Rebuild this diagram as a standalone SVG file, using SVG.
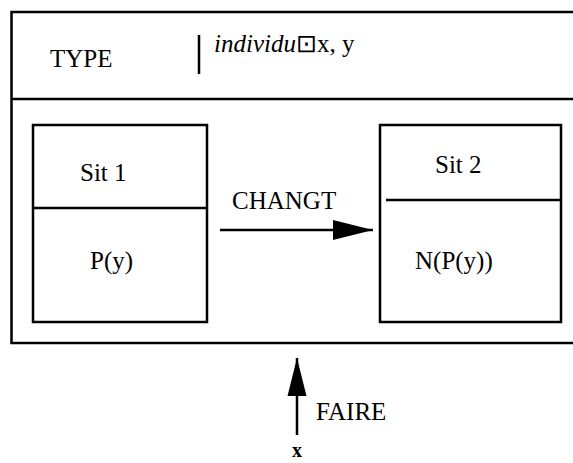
<svg xmlns="http://www.w3.org/2000/svg" width="573" height="463" viewBox="0 0 573 463">
<style>
text{font-family:"Liberation Serif","Times New Roman",serif;font-size:25px;fill:#000}
.ln{stroke:#000;stroke-width:2.5;fill:none}
.bx{stroke:#000;stroke-width:2.5;fill:#fff}
.sm{font-size:20px}
</style>
<defs>
<marker id="ah" markerUnits="userSpaceOnUse" markerWidth="40" markerHeight="20" refX="40" refY="10" orient="auto">
<path d="M0,0 L40,10 L0,20 Z" fill="#000"/>
</marker>
<marker id="ah2" markerUnits="userSpaceOnUse" markerWidth="38" markerHeight="20" refX="38" refY="10" orient="auto">
<path d="M0,0.5 L38,10 L0,19.5 Z" fill="#000"/>
</marker>
</defs>
<rect width="573" height="463" fill="#fff"/>
<g id="frame">
<path class="ln" d="M575,12 H11.5 V343 H575"/>
<line class="ln" x1="11" y1="99" x2="575" y2="99"/>
<line class="ln" x1="199" y1="35" x2="199" y2="74"/>
<text x="50" y="67">TYPE</text>
<text x="214" y="52"><tspan font-style="italic">individu</tspan>⊡x, y</text>
</g>
<g id="sit1">
<rect class="bx" x="33" y="125" width="174" height="197"/>
<line class="ln" x1="33" y1="208" x2="207" y2="208"/>
<text x="80" y="181">Sit 1</text>
<text x="90" y="269">P(y)</text>
</g>
<g id="sit2">
<rect class="bx" x="380" y="125" width="181" height="197"/>
<line class="ln" x1="386" y1="200" x2="561" y2="200"/>
<text x="435" y="173">Sit 2</text>
<text x="415" y="269">N(P(y))</text>
</g>
<g id="connectors">
<line class="ln" x1="220" y1="230" x2="373" y2="230" marker-end="url(#ah)"/>
<line class="ln" x1="297" y1="435" x2="297" y2="358" marker-end="url(#ah2)"/>
</g>
<text x="232" y="209">CHANGT</text>
<text x="316" y="420">FAIRE</text>
<text class="sm" x="297" y="457" text-anchor="middle" font-weight="bold">x</text>
</svg>
